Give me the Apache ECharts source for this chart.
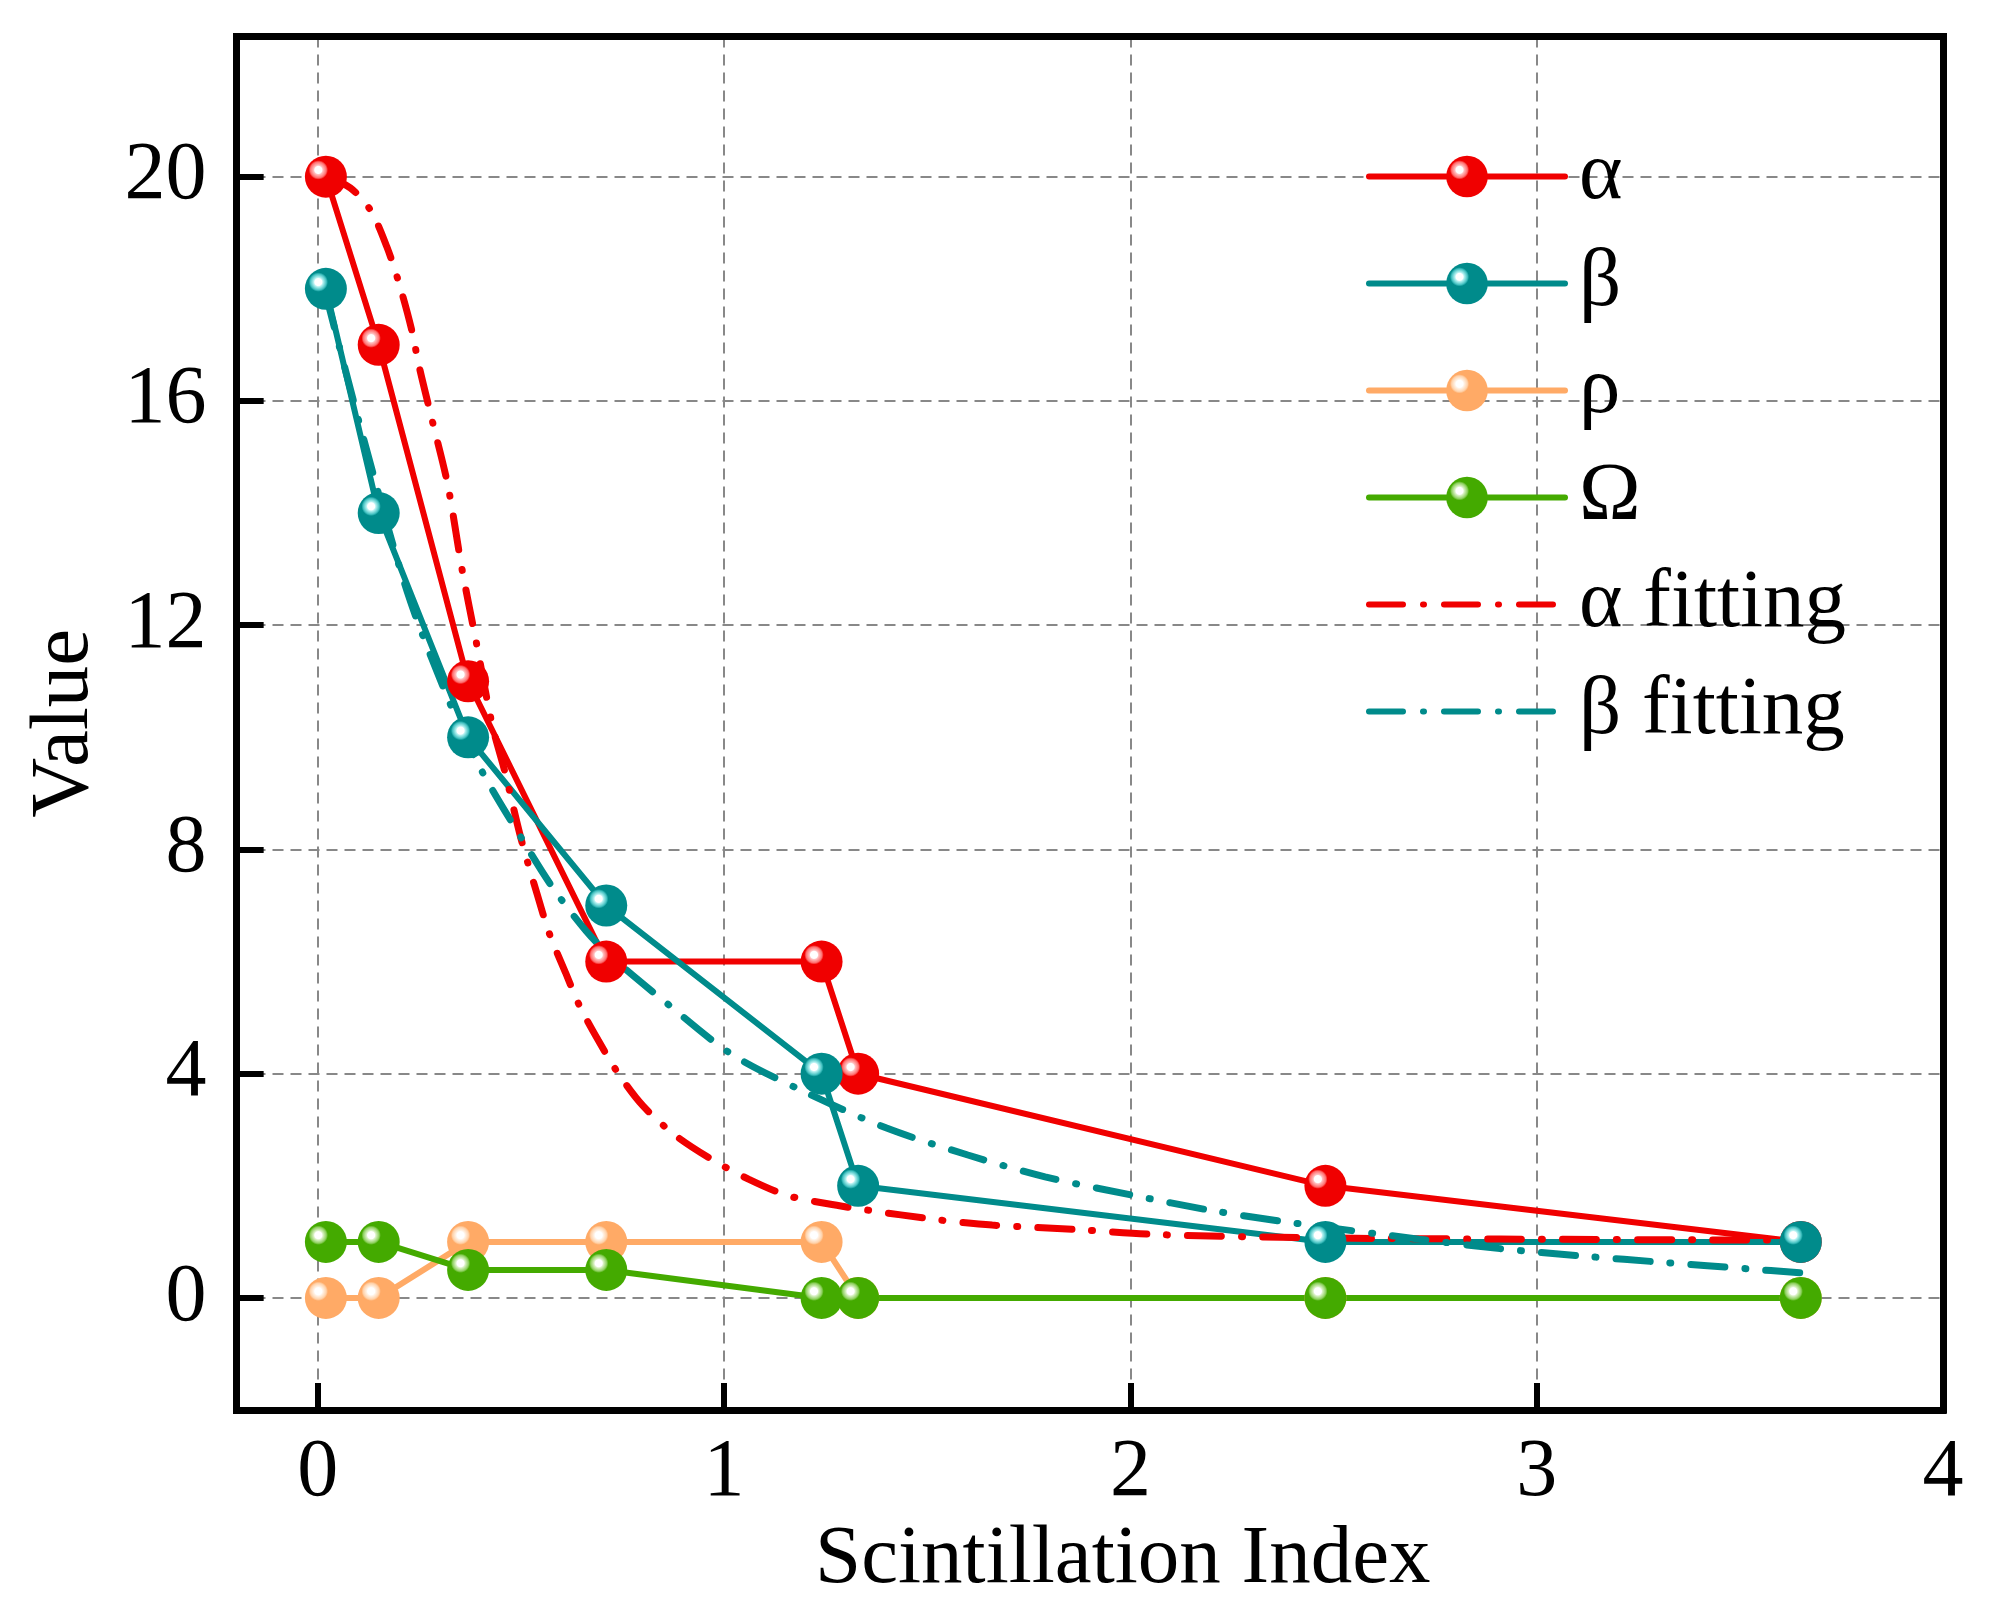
<!DOCTYPE html>
<html>
<head>
<meta charset="utf-8">
<script src="https://cdn.jsdelivr.net/npm/echarts@6/dist/echarts.min.js"></script>
<style>
  html, body { margin: 0; padding: 0; background: #fff; }
  #chart { width: 1994px; height: 1607px; }
</style>
</head>
<body>
<div id="chart"></div>
<script>
// measured points
const xIndex = [0.02, 0.15, 0.37, 0.71, 1.24, 1.33, 2.48, 3.65];
const alpha = [20, 17, 11, 6, 6, 4, 2, 1];
const beta = [18, 14, 10, 7, 4, 2, 1, 1];
const rho = [0, 0, 1, 1, 1, 0, 0, 0];
const omega = [1, 1, 0.5, 0.5, 0, 0, 0, 0];

// fitting curves
const alphaFitX = [0.02, 0.08, 0.13, 0.17, 0.2, 0.23, 0.25, 0.28, 0.32, 0.355, 0.39, 0.43, 0.46, 0.5, 0.54, 0.57, 0.61, 0.645, 0.69, 0.74, 0.8, 0.88, 0.97, 1.06, 1.155, 1.255, 1.35, 1.52, 1.66, 1.87, 2.07, 2.48, 2.91, 3.65];
const alphaFitY = [20, 19.8, 19.4, 18.75, 18.1, 17.3, 16.6, 15.7, 14.5, 13.0, 11.7, 10.2, 9.4, 8.2, 7.2, 6.5, 5.8, 5.2, 4.6, 4.0, 3.43, 2.9, 2.47, 2.12, 1.83, 1.68, 1.57, 1.4, 1.3, 1.22, 1.13, 1.07, 1.05, 1.03];
const betaFitX = [0.02, 0.11, 0.22, 0.32, 0.4, 0.51, 0.58, 0.66, 0.72, 0.86, 1.02, 1.2, 1.4, 1.6, 1.79, 2.0, 2.2, 2.4, 2.71, 2.91, 3.11, 3.32, 3.52, 3.65];
const betaFitY = [17.9, 15.4, 12.6, 10.7, 9.45, 8.1, 7.3, 6.55, 6.1, 5.25, 4.34, 3.67, 3.03, 2.55, 2.16, 1.84, 1.56, 1.34, 1.05, 0.88, 0.75, 0.63, 0.52, 0.45];

const xLabels = [0, 1, 2, 3, 4];
const xGrid = [0, 1, 2, 3];
const yTicks = [0, 4, 8, 12, 16, 20];

const X_MIN = -0.2, X_MAX = 4, Y_MIN = -2, Y_MAX = 22.5;
// tick length (about 27px) expressed in axis units
const TICK_DX = 0.066, TICK_DY = 0.48;

const FONT = '"Liberation Serif", "Times New Roman", serif';
const FIT_DASH = [34, 20, 1, 20];

function pairs(xs, ys) {
  return xs.map((x, i) => [x, ys[i]]);
}

// shiny ball marker
function ball(main, light, mid) {
  return {
    type: 'radial', x: 0.32, y: 0.34, r: 0.5,
    colorStops: [
      { offset: 0, color: '#ffffff' },
      { offset: 0.17, color: '#ffffff' },
      { offset: 0.22, color: light },
      { offset: 0.38, color: mid },
      { offset: 0.46, color: main },
      { offset: 1, color: main }
    ]
  };
}

function dataSeries(name, ys, main, light, mid) {
  return {
    name: name,
    type: 'line',
    data: pairs(xIndex, ys),
    symbol: 'circle',
    symbolSize: 42,
    lineStyle: { color: main, width: 6 },
    itemStyle: { color: ball(main, light, mid), borderWidth: 0 },
    emphasis: { disabled: true },
    z: 3
  };
}

function fitSeries(name, xs, ys, color) {
  return {
    name: name,
    type: 'line',
    data: pairs(xs, ys),
    symbol: 'none',
    smooth: 0.3,
    lineStyle: { color: color, width: 7, type: FIT_DASH, cap: 'round' },
    itemStyle: { color: color },
    emphasis: { disabled: true },
    z: 3
  };
}

function legendItem(name, color, dashed) {
  const item = {
    name: name,
    lineStyle: { width: 6, color: color, type: dashed ? FIT_DASH : 'solid', cap: 'round' }
  };
  if (dashed) {
    item.itemStyle = { color: 'rgba(0,0,0,0)', opacity: 0 };
  }
  return item;
}

// inward tick marks on the left and bottom frame
const tickLines = [].concat(
  xGrid.map(v => [{ coord: [v, Y_MIN] }, { coord: [v, Y_MIN + TICK_DY] }]),
  yTicks.map(v => [{ coord: [X_MIN, v] }, { coord: [X_MIN + TICK_DX, v] }])
);

const gridLine = { show: true, lineStyle: { color: '#888', width: 2, type: [11, 7] } };
const frameLine = { show: true, onZero: false, lineStyle: { color: '#000', width: 7, cap: 'square' } };
const innerTick = { show: true, inside: true, length: 27, lineStyle: { color: '#000', width: 6 } };

const chart = echarts.init(document.getElementById('chart'));

const omegaSeries = dataSeries('Ω', omega, '#44AA00', '#dcf2c8', '#8fd060');
omegaSeries.markLine = {
  silent: true,
  symbol: 'none',
  animation: false,
  label: { show: false },
  emphasis: { disabled: true },
  lineStyle: { color: '#000', width: 6, type: 'solid', opacity: 1 },
  data: tickLines
};

chart.setOption({
  animation: false,
  backgroundColor: '#fff',
  grid: { left: 236.5, right: 51, top: 36.5, bottom: 196 },
  legend: {
    orient: 'vertical',
    left: 1361, top: 130,
    itemWidth: 196, itemHeight: 52, itemGap: 24,
    data: [
      legendItem('α', '#F00000', false),
      legendItem('β', '#008B8B', false),
      legendItem('ρ', '#FFAA66', false),
      legendItem('Ω', '#44AA00', false),
      legendItem('α fitting', '#F00000', true),
      legendItem('β fitting', '#008B8B', true)
    ],
    textStyle: { fontFamily: FONT, fontSize: 83, color: '#000', padding: [0, 0, 0, 9] }
  },
  xAxis: [{
    type: 'value',
    min: X_MIN, max: X_MAX,
    name: 'Scintillation Index',
    nameLocation: 'middle',
    nameGap: 100,
    nameTextStyle: { fontFamily: FONT, fontSize: 83, color: '#000', padding: [0, 0, 0, 66] },
    axisLine: frameLine,
    axisTick: Object.assign({ customValues: xGrid }, innerTick),
    axisLabel: { customValues: xLabels, margin: 22, fontFamily: FONT, fontSize: 82, color: '#000' },
    splitLine: gridLine
  }, {
    type: 'value', position: 'top',
    min: X_MIN, max: X_MAX,
    axisLine: frameLine,
    axisTick: { show: false }, axisLabel: { show: false }, splitLine: { show: false }
  }],
  yAxis: [{
    type: 'value',
    min: Y_MIN, max: Y_MAX,
    name: 'Value',
    nameLocation: 'middle',
    nameGap: 130,
    nameTextStyle: { fontFamily: FONT, fontSize: 83, color: '#000' },
    axisLine: frameLine,
    axisTick: Object.assign({ customValues: yTicks }, innerTick),
    axisLabel: { customValues: yTicks, margin: 30, fontFamily: FONT, fontSize: 82, color: '#000' },
    splitLine: gridLine
  }, {
    type: 'value', position: 'right',
    min: Y_MIN, max: Y_MAX,
    axisLine: frameLine,
    axisTick: { show: false }, axisLabel: { show: false }, splitLine: { show: false }
  }],
  series: [
    dataSeries('α', alpha, '#F00000', '#ffc0c0', '#ff6e6e'),
    dataSeries('β', beta, '#008B8B', '#b8f2f2', '#45c2c2'),
    dataSeries('ρ', rho, '#FFAA66', '#fff2e6', '#ffd2aa'),
    omegaSeries,
    fitSeries('α fitting', alphaFitX, alphaFitY, '#F00000'),
    fitSeries('β fitting', betaFitX, betaFitY, '#008B8B')
  ]
});

window.onresize = function () {
  chart.resize();
};
</script>
</body>
</html>
